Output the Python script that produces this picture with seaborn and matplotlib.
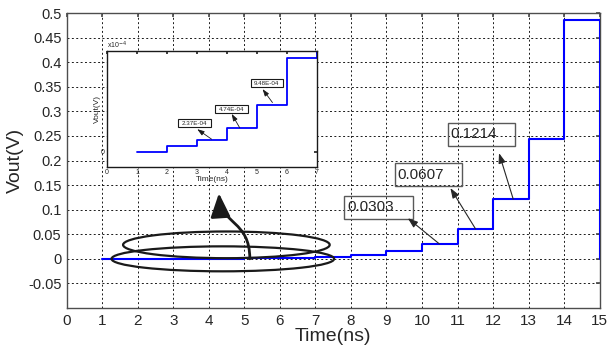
import numpy as np
import pandas as pd
import matplotlib
matplotlib.use("Agg")
import matplotlib.pyplot as plt
from matplotlib.patches import Ellipse, Rectangle, FancyArrowPatch
from matplotlib.path import Path
import seaborn as sns

# step output (ns, V)
time_ns = [1, 2, 3, 4, 5, 6, 7, 8, 9, 10, 11, 12, 13, 14, 15]
vout = [0, 1.185e-4, 2.37e-4, 4.74e-4, 9.48e-4, 1.896e-3, 3.79e-3, 7.58e-3,
        0.01517, 0.0303, 0.0607, 0.1214, 0.2428, 0.4856, 0]

main_labels = ["0.0303", "0.0607", "0.1214"]
inset_labels = ["2.37E-04", "4.74E-04", "9.48E-04"]
x_ticks = list(range(16))
y_ticks = [-0.05, 0, 0.05, 0.1, 0.15, 0.2, 0.25, 0.3, 0.35, 0.4, 0.45, 0.5]
inset_x_ticks = list(range(8))

df = pd.DataFrame({"t": time_ns, "v": vout})

sns.set_theme(style="white")
plt.rcParams["font.family"] = ["Liberation Sans", "DejaVu Sans"]

fig = plt.figure(figsize=(6.1, 3.47), dpi=100)
ax = fig.add_axes([0.1098, 0.1124, 0.873, 0.850])

sns.lineplot(data=df, x="t", y="v", ax=ax, color="#0000ff", lw=1.5,
             drawstyle="steps-post", zorder=3)

ax.set_xlim(0, 15)
ax.set_ylim(-0.1, 0.5)
ax.set_xticks(x_ticks)
ax.set_xticklabels([str(t) for t in x_ticks], fontsize=11)
ax.set_yticks(y_ticks)
ax.set_yticklabels(["%g" % round(v, 2) for v in y_ticks], fontsize=10.5)
ax.grid(True, color="k", linestyle=(0, (2, 2.5)), linewidth=0.7)
ax.tick_params(direction="in", length=3, color="0.3", top=True, right=True,
               pad=4)
for s in ax.spines.values():
    s.set_color("0.3")
    s.set_linewidth(1)
ax.set_xlabel("Time(ns)", fontsize=14, labelpad=0)
ax.set_ylabel("Vout(V)", fontsize=14, labelpad=3)

# ellipses round the flat part
ax.add_patch(Ellipse((4.49, 0.0285), 5.82, 0.0543, fill=False, ec="k", lw=1.6, zorder=4))
ax.add_patch(Ellipse((4.39, 0.0), 6.27, 0.0508, fill=False, ec="k", lw=1.6, zorder=4))

# curved arrow to the zoom
p = Path([(5.15, 0.0), (5.15, 0.079), (4.34, 0.069), (4.28, 0.1335)],
         [Path.MOVETO, Path.CURVE4, Path.CURVE4, Path.CURVE4])
ax.add_patch(FancyArrowPatch(path=p, arrowstyle="-|>,head_length=1.45,head_width=0.6",
                             mutation_scale=10, color="k", lw=2, zorder=5))

# labelled boxes on the main plot
boxes = [(7.81, 0.0813, 1.94, 0.047), (9.24, 0.148, 1.90, 0.047), (10.72, 0.230, 1.90, 0.046)]
heads = [(9.6, 0.0827), (10.80, 0.144), (12.17, 0.215)]
tails = [(10.49, 0.0303), (11.51, 0.0607), (12.57, 0.1214)]
for lab, (bx, by, bw, bh), hd, tl in zip(main_labels, boxes, heads, tails):
    ax.add_patch(Rectangle((bx, by), bw, bh, fill=False, ec="0.35", lw=1, zorder=4))
    ax.text(bx + 0.08, by + bh / 2, lab, fontsize=11, va="center", ha="left", zorder=4)
    ax.annotate("", xy=hd, xytext=tl,
                arrowprops=dict(arrowstyle="-|>,head_length=0.5,head_width=0.18",
                                color="0.15", lw=0.8, shrinkA=0, shrinkB=0), zorder=4)

# inset zoom
ax_in = fig.add_axes([0.1754, 0.519, 0.344, 0.334])
ax_in.set_facecolor("white")
sns.lineplot(data=df, x="t", y="v", ax=ax_in, color="#0000ff", lw=1.3,
             drawstyle="steps-post")
ax_in.set_xlim(0, 7)
ax_in.set_ylim(-3.1e-4, 2.04e-3)
ax_in.set_xticks(inset_x_ticks)
ax_in.set_xticklabels([str(t) for t in inset_x_ticks], fontsize=5)
ax_in.set_yticks([0])
ax_in.set_yticklabels(["0"], fontsize=5)
ax_in.tick_params(direction="in", length=2, top=True, right=True, pad=1.5)
for s in ax_in.spines.values():
    s.set_color("k")
    s.set_linewidth(1)
ax_in.set_xlabel("Time(ns)", fontsize=6, labelpad=0)
ax_in.set_ylabel("Vout(V)", fontsize=6, labelpad=0)
ax_in.text(0, 1.0, r"x10$^{-4}$", transform=ax_in.transAxes, fontsize=5,
           va="bottom", ha="left")

in_boxes = [(2.38, 4.95e-4, 1.08, 1.63e-4), (3.60, 7.80e-4, 1.11, 1.68e-4),
            (4.79, 1.307e-3, 1.07, 1.63e-4)]
in_heads = [(3.01, 4.55e-4), (4.16, 7.65e-4), (5.19, 1.267e-3)]
in_tails = [(3.49, 2.52e-4), (4.43, 4.8e-4), (5.52, 9.95e-4)]
for lab, (bx, by, bw, bh), hd, tl in zip(inset_labels, in_boxes, in_heads, in_tails):
    ax_in.add_patch(Rectangle((bx, by), bw, bh, fc="white", ec="k", lw=0.8, zorder=4))
    ax_in.text(bx + bw / 2, by + bh / 2, lab, fontsize=4.5, va="center", ha="center", zorder=5)
    ax_in.annotate("", xy=hd, xytext=tl,
                   arrowprops=dict(arrowstyle="-|>,head_length=0.35,head_width=0.12",
                                   color="k", lw=0.6, shrinkA=0, shrinkB=0), zorder=4)

fig.savefig("out.png", dpi=100)
